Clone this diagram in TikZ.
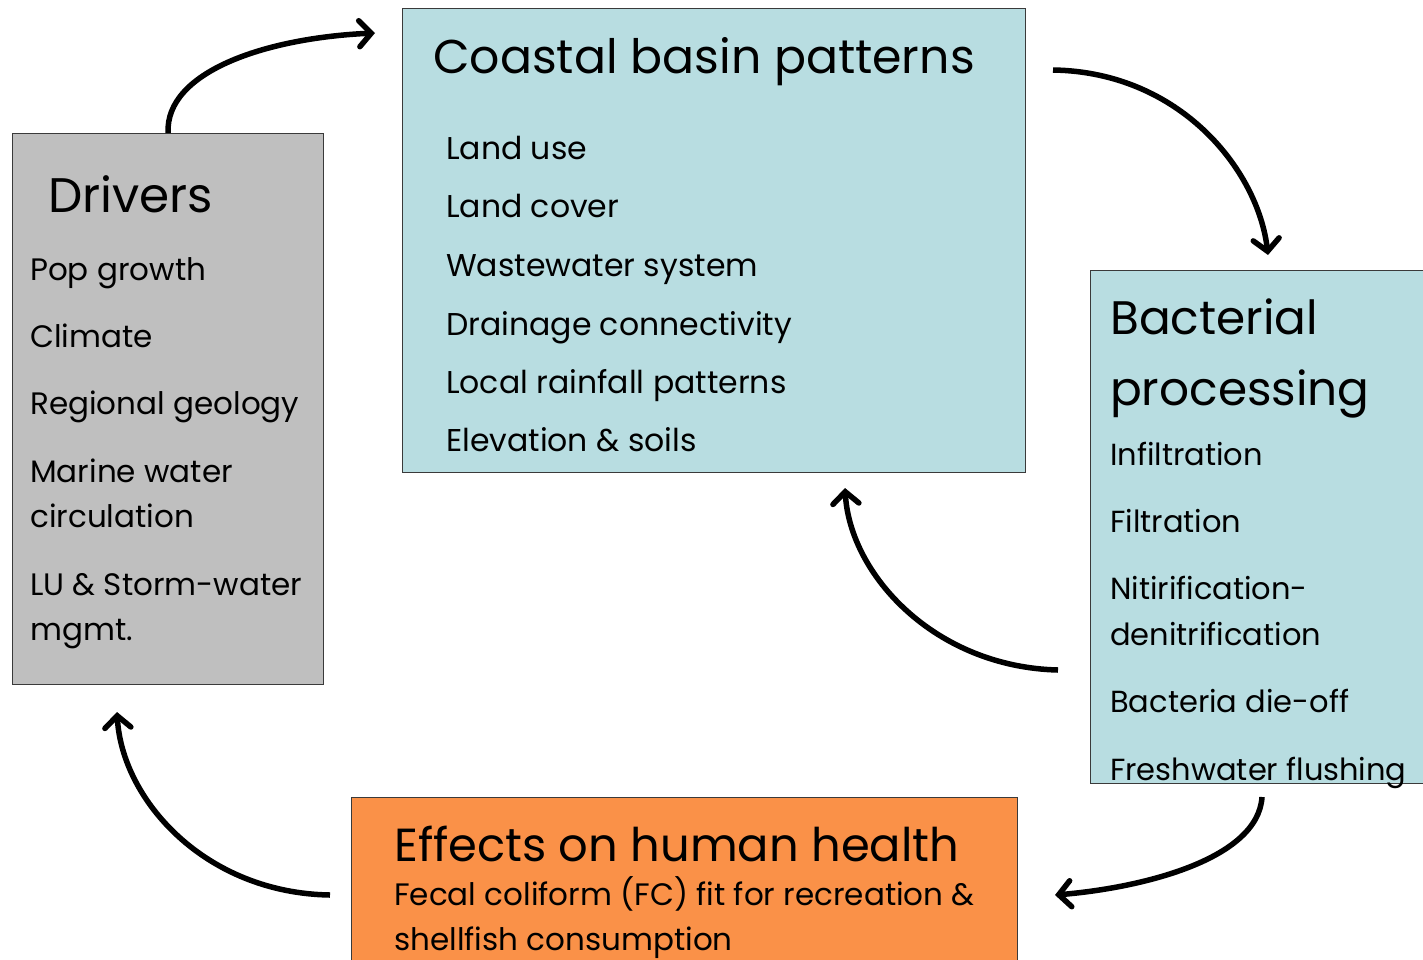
\documentclass[tikz,border=0pt]{standalone}
\usepackage{fontspec}
\setmainfont{Poppins}
\usetikzlibrary{arrows.meta}
\definecolor{drvgray}{HTML}{BFBFBF}
\definecolor{cbblue}{HTML}{B8DDE1}
\definecolor{efforange}{HTML}{FA9148}
\definecolor{edge}{HTML}{3A3A3A}
\tikzset{
  box/.style={draw=edge, line width=1.2pt, anchor=north west, inner sep=0pt},
  ttl/.style={anchor=base west, inner sep=0pt, font=\fontsize{47}{50}\selectfont},
  itm/.style={anchor=base west, inner sep=0pt, font=\fontsize{31}{34}\selectfont},
  bitm/.style={anchor=base west, inner sep=0pt, font=\fontsize{30.5}{34}\selectfont},
  citm/.style={anchor=base west, inner sep=0pt, font=\fontsize{31.5}{34}\selectfont},
  flow/.style={line width=5.5pt, -{Straight Barb[length=12pt,width=26pt,line cap=round]}}
}
\begin{document}
\begin{tikzpicture}[x=1pt,y=-1pt]
\useasboundingbox (0,0) rectangle (1423,959);
% boxes
\node[box, fill=drvgray, minimum width=311pt, minimum height=551pt] (drv) at (12,133) {};
\node[box, fill=cbblue, minimum width=623pt, minimum height=464pt] (cbp) at (402,8) {};
\node[box, fill=cbblue, minimum width=356pt, minimum height=513pt] (bac) at (1090,270) {};
\node[box, fill=efforange, minimum width=666pt, minimum height=180pt] (eff) at (351,797) {};
% Drivers
\node[ttl, font=\fontsize{48.5}{50}\selectfont] (drvT) at (48,212) {Drivers};
\node[itm] (d1) at (30,280) {Pop growth};
\node[itm] (d2) at (30,347) {Climate};
\node[itm] (d3) at (30,414) {Regional geology};
\node[itm] (d4) at (30,482) {Marine water};
\node[itm] (d5) at (30,527) {circulation};
\node[itm] (d6) at (30,595) {LU \& Storm-water};
\node[itm] (d7) at (30,640) {mgmt.};
% Coastal basin
\node[ttl, font=\fontsize{47.4}{50}\selectfont] (cbpT) at (433,73) {Coastal basin patterns};
\node[citm] (c1) at (446,159) {Land use};
\node[citm] (c2) at (446,217) {Land cover};
\node[citm] (c3) at (446,276) {Wastewater system};
\node[citm] (c4) at (446,335) {Drainage connectivity};
\node[citm] (c5) at (446,393) {Local rainfall patterns};
\node[citm] (c6) at (446,451) {Elevation \& soils};
% Bacterial
\node[ttl] (bacT1) at (1110,334) {Bacterial};
\node[ttl] (bacT2) at (1110,405) {processing};
\node[bitm] (b1) at (1110,465) {Infiltration};
\node[bitm] (b2) at (1110,532) {Filtration};
\node[bitm] (b3) at (1110,599) {Nitirification-};
\node[bitm] (b4) at (1110,645) {denitrification};
\node[bitm] (b5) at (1110,712) {Bacteria die-off};
\node[bitm] (b6) at (1110,780) {Freshwater flushing};
% Effects
\node[ttl, font=\fontsize{46.4}{50}\selectfont] (effT) at (394,861) {Effects on human health};
\node[itm] (e1) at (394,905) {Fecal coliform (FC) fit for recreation \&};
\node[itm] (e2) at (394,950) {shellfish consumption};
% connectors
\coordinate (a1e) at (375,33);
\coordinate (a2s) at (1053,70);
\coordinate (a2e) at (1268,255);
\coordinate (a3s) at (1262,797);
\coordinate (a3e) at (1055,895);
\coordinate (a4s) at (330,895);
\coordinate (a4e) at (117,712);
\coordinate (a5s) at (1058,670);
\coordinate (a5e) at (845,488);
\draw[flow] (drv.north) .. controls (165,72) and (265,38) .. (a1e);
\draw[flow] (a2s) .. controls (1180,72) and (1258,170) .. (a2e);
\draw[flow] (a3s) .. controls (1258,860) and (1140,888) .. (a3e);
\draw[flow] (a4s) .. controls (205,893) and (122,800) .. (a4e);
\draw[flow] (a5s) .. controls (935,667) and (850,575) .. (a5e);
\end{tikzpicture}
\end{document}
